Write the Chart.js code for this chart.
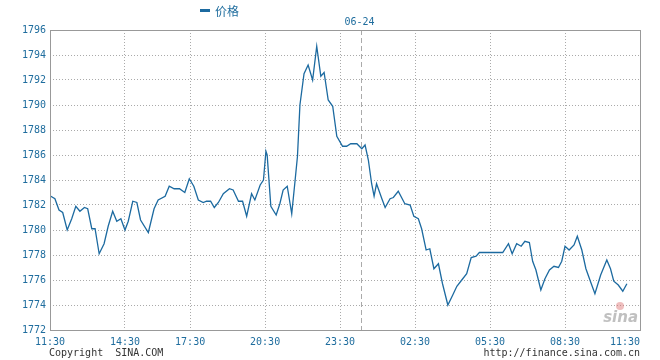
<!DOCTYPE html>
<html>
<head>
<meta charset="utf-8">
<script src="https://cdn.jsdelivr.net/npm/chart.js@4.4.0/dist/chart.umd.min.js"></script>
<style>
  body { margin: 0; background: #fff; }
  canvas { display: block; }
</style>
</head>
<body>
<canvas id="price" width="660" height="360"></canvas>
<script>
// minutes since 11:30 on the first day
var minutes = [2, 12, 22, 31, 42, 53, 63, 73, 84, 92, 102, 110, 120, 132, 142, 153, 163, 173, 183, 191,
    202, 212, 221, 240, 254, 264, 281, 291, 303, 316, 329, 340, 351, 362, 374, 382, 392, 401, 411, 423,
    438, 447, 460, 470, 480, 492, 500, 513, 521, 527, 530, 539, 552, 561, 569, 579, 590, 598, 604, 610,
    620, 630, 641, 651, 661, 669, 679, 690, 700, 714, 724, 734, 749, 761, 769, 777, 785, 791, 797, 810,
    818, 830, 838, 850, 866, 879, 888, 899, 907, 918, 927, 937, 948, 958, 971, 983, 993, 1005, 1017, 1028,
    1040, 1048, 1075, 1105, 1119, 1128, 1139, 1150, 1159, 1170, 1178, 1186, 1198, 1208, 1219, 1230, 1241, 1249, 1257, 1267,
    1279, 1287, 1298, 1308, 1320, 1330, 1344, 1359, 1368, 1376, 1387, 1398, 1408];
var prices = [1782.7, 1782.5, 1781.6, 1781.4, 1780.0, 1780.9, 1781.9, 1781.5, 1781.8, 1781.7, 1780.1, 1780.1, 1778.1, 1778.9, 1780.3, 1781.5, 1780.7, 1780.9, 1780.0, 1780.7,
    1782.3, 1782.2, 1780.8, 1779.8, 1781.7, 1782.4, 1782.7, 1783.5, 1783.3, 1783.3, 1783.0, 1784.1, 1783.5, 1782.4, 1782.2, 1782.3, 1782.3, 1781.8, 1782.2, 1782.9,
    1783.3, 1783.2, 1782.3, 1782.3, 1781.1, 1782.9, 1782.4, 1783.6, 1784.0, 1786.3, 1786.0, 1781.9, 1781.2, 1782.1, 1783.2, 1783.5, 1781.3, 1783.9, 1785.9, 1790.0,
    1792.5, 1793.2, 1792.0, 1794.7, 1792.3, 1792.6, 1790.4, 1789.9, 1787.5, 1786.7, 1786.7, 1786.9, 1786.9, 1786.5, 1786.8, 1785.6, 1783.7, 1782.7, 1783.7, 1782.5,
    1781.8, 1782.5, 1782.6, 1783.1, 1782.1, 1782.0, 1781.1, 1780.9, 1780.1, 1778.4, 1778.5, 1776.9, 1777.3, 1775.7, 1774.0, 1774.8, 1775.5, 1776.0, 1776.5, 1777.8,
    1777.9, 1778.2, 1778.2, 1778.2, 1778.9, 1778.1, 1778.9, 1778.7, 1779.1, 1779.0, 1777.5, 1776.8, 1775.2, 1776.1, 1776.8, 1777.1, 1777.0, 1777.5, 1778.7, 1778.4,
    1778.8, 1779.5, 1778.4, 1776.9, 1775.8, 1774.9, 1776.4, 1777.6, 1776.9, 1775.9, 1775.6, 1775.1, 1775.7];

var tickMinutes = [0, 183, 342, 525, 708, 891, 1074, 1257, 1440];
var tickLabels = ['11:30', '14:30', '17:30', '20:30', '23:30', '02:30', '05:30', '08:30', '11:30'];
var dayMarker = 758;   // 06-24 00:00
var dayLabel = '06-24';
var seriesName = '价格';

var blue = '#1f6d9e';
var lineBlue = '#1c6aa0';
var mono = '"DejaVu Sans Mono", monospace';

var points = [];
for (var i = 0; i < minutes.length; i++) {
    points.push({x: minutes[i], y: prices[i]});
}

var decor = {
    id: 'decor',
    beforeDatasetsDraw: function(chart) {
        var ctx = chart.ctx, a = chart.chartArea;
        var xs = chart.scales.x;
        var dx = Math.round(xs.getPixelForValue(dayMarker)) + 0.5;
        ctx.save();
        ctx.strokeStyle = '#aaaaaa';
        ctx.lineWidth = 1;
        ctx.setLineDash([5, 3]);
        ctx.beginPath();
        ctx.moveTo(dx, a.top);
        ctx.lineTo(dx, a.bottom);
        ctx.stroke();
        ctx.restore();
    },
    afterDraw: function(chart) {
        var ctx = chart.ctx, a = chart.chartArea;
        var xs = chart.scales.x;
        ctx.save();
        // frame
        ctx.strokeStyle = '#999999';
        ctx.lineWidth = 1;
        ctx.strokeRect(Math.round(a.left) + 0.5, Math.round(a.top) + 0.5, Math.round(a.right - a.left), Math.round(a.bottom - a.top));

        // legend
        ctx.fillStyle = lineBlue;
        ctx.fillRect(200, 9, 10, 3);
        ctx.fillStyle = blue;
        ctx.font = '12px "Noto Sans CJK SC", sans-serif';
        ctx.textBaseline = 'middle';
        ctx.textAlign = 'left';
        ctx.fillText(seriesName, 215, 11);

        // day label
        ctx.font = '10px ' + mono;
        ctx.textAlign = 'center';
        ctx.fillText(dayLabel, xs.getPixelForValue(dayMarker) - 1, 22);

        // last time label sits inside the frame
        ctx.textAlign = 'right';
        ctx.fillText(tickLabels[tickLabels.length - 1], a.right, 342);

        // footer
        ctx.fillStyle = '#333333';
        ctx.textAlign = 'left';
        ctx.fillText('Copyright  SINA.COM', 49, 353);
        ctx.textAlign = 'right';
        ctx.fillText('http://finance.sina.com.cn', 640, 353);

        // sina mark
        ctx.fillStyle = 'rgba(140,140,140,0.55)';
        ctx.font = 'italic bold 15px "DejaVu Sans", sans-serif';
        ctx.textAlign = 'right';
        ctx.fillText('sina', 638, 318);
        ctx.fillStyle = 'rgba(220,110,110,0.45)';
        ctx.beginPath();
        ctx.arc(620, 306, 4, 0, Math.PI * 2);
        ctx.fill();
        ctx.restore();
    }
};

new Chart(
    document.getElementById('price'),
    {
        type: 'line',
        data: {
            datasets: [
                {
                    label: seriesName,
                    data: points,
                    borderColor: lineBlue,
                    borderWidth: 1.3,
                    pointRadius: 0,
                    tension: 0,
                    fill: false
                }
            ]
        },
        options: {
            responsive: false,
            animation: false,
            layout: {
                padding: {top: 30, right: 20, left: 0, bottom: 0}
            },
            plugins: {
                legend: {display: false},
                tooltip: {enabled: false}
            },
            scales: {
                x: {
                    type: 'linear',
                    min: 0,
                    max: 1440,
                    afterBuildTicks: function(scale) {
                        scale.ticks = tickMinutes.map(function(v) { return {value: v}; });
                    },
                    afterFit: function(scale) { scale.height = 30; },
                    ticks: {
                        autoSkip: false,
                        maxRotation: 0,
                        padding: 6,
                        color: blue,
                        font: {family: mono, size: 10},
                        callback: function(value, index) {
                            if (index === tickMinutes.length - 1) return '';
                            var k = tickMinutes.indexOf(value);
                            return k >= 0 ? tickLabels[k] : '';
                        }
                    },
                    grid: {
                        color: '#aaaaaa',
                        drawTicks: false
                    },
                    border: {display: false, dash: [1, 2]}
                },
                y: {
                    min: 1772,
                    max: 1796,
                    afterFit: function(scale) { scale.width = 50; },
                    ticks: {
                        stepSize: 2,
                        padding: 4,
                        color: blue,
                        font: {family: mono, size: 10},
                        callback: function(value) { return String(value); }
                    },
                    grid: {
                        color: '#aaaaaa',
                        drawTicks: false
                    },
                    border: {display: false, dash: [1, 2]}
                }
            }
        },
        plugins: [decor]
    }
);
</script>
</body>
</html>
